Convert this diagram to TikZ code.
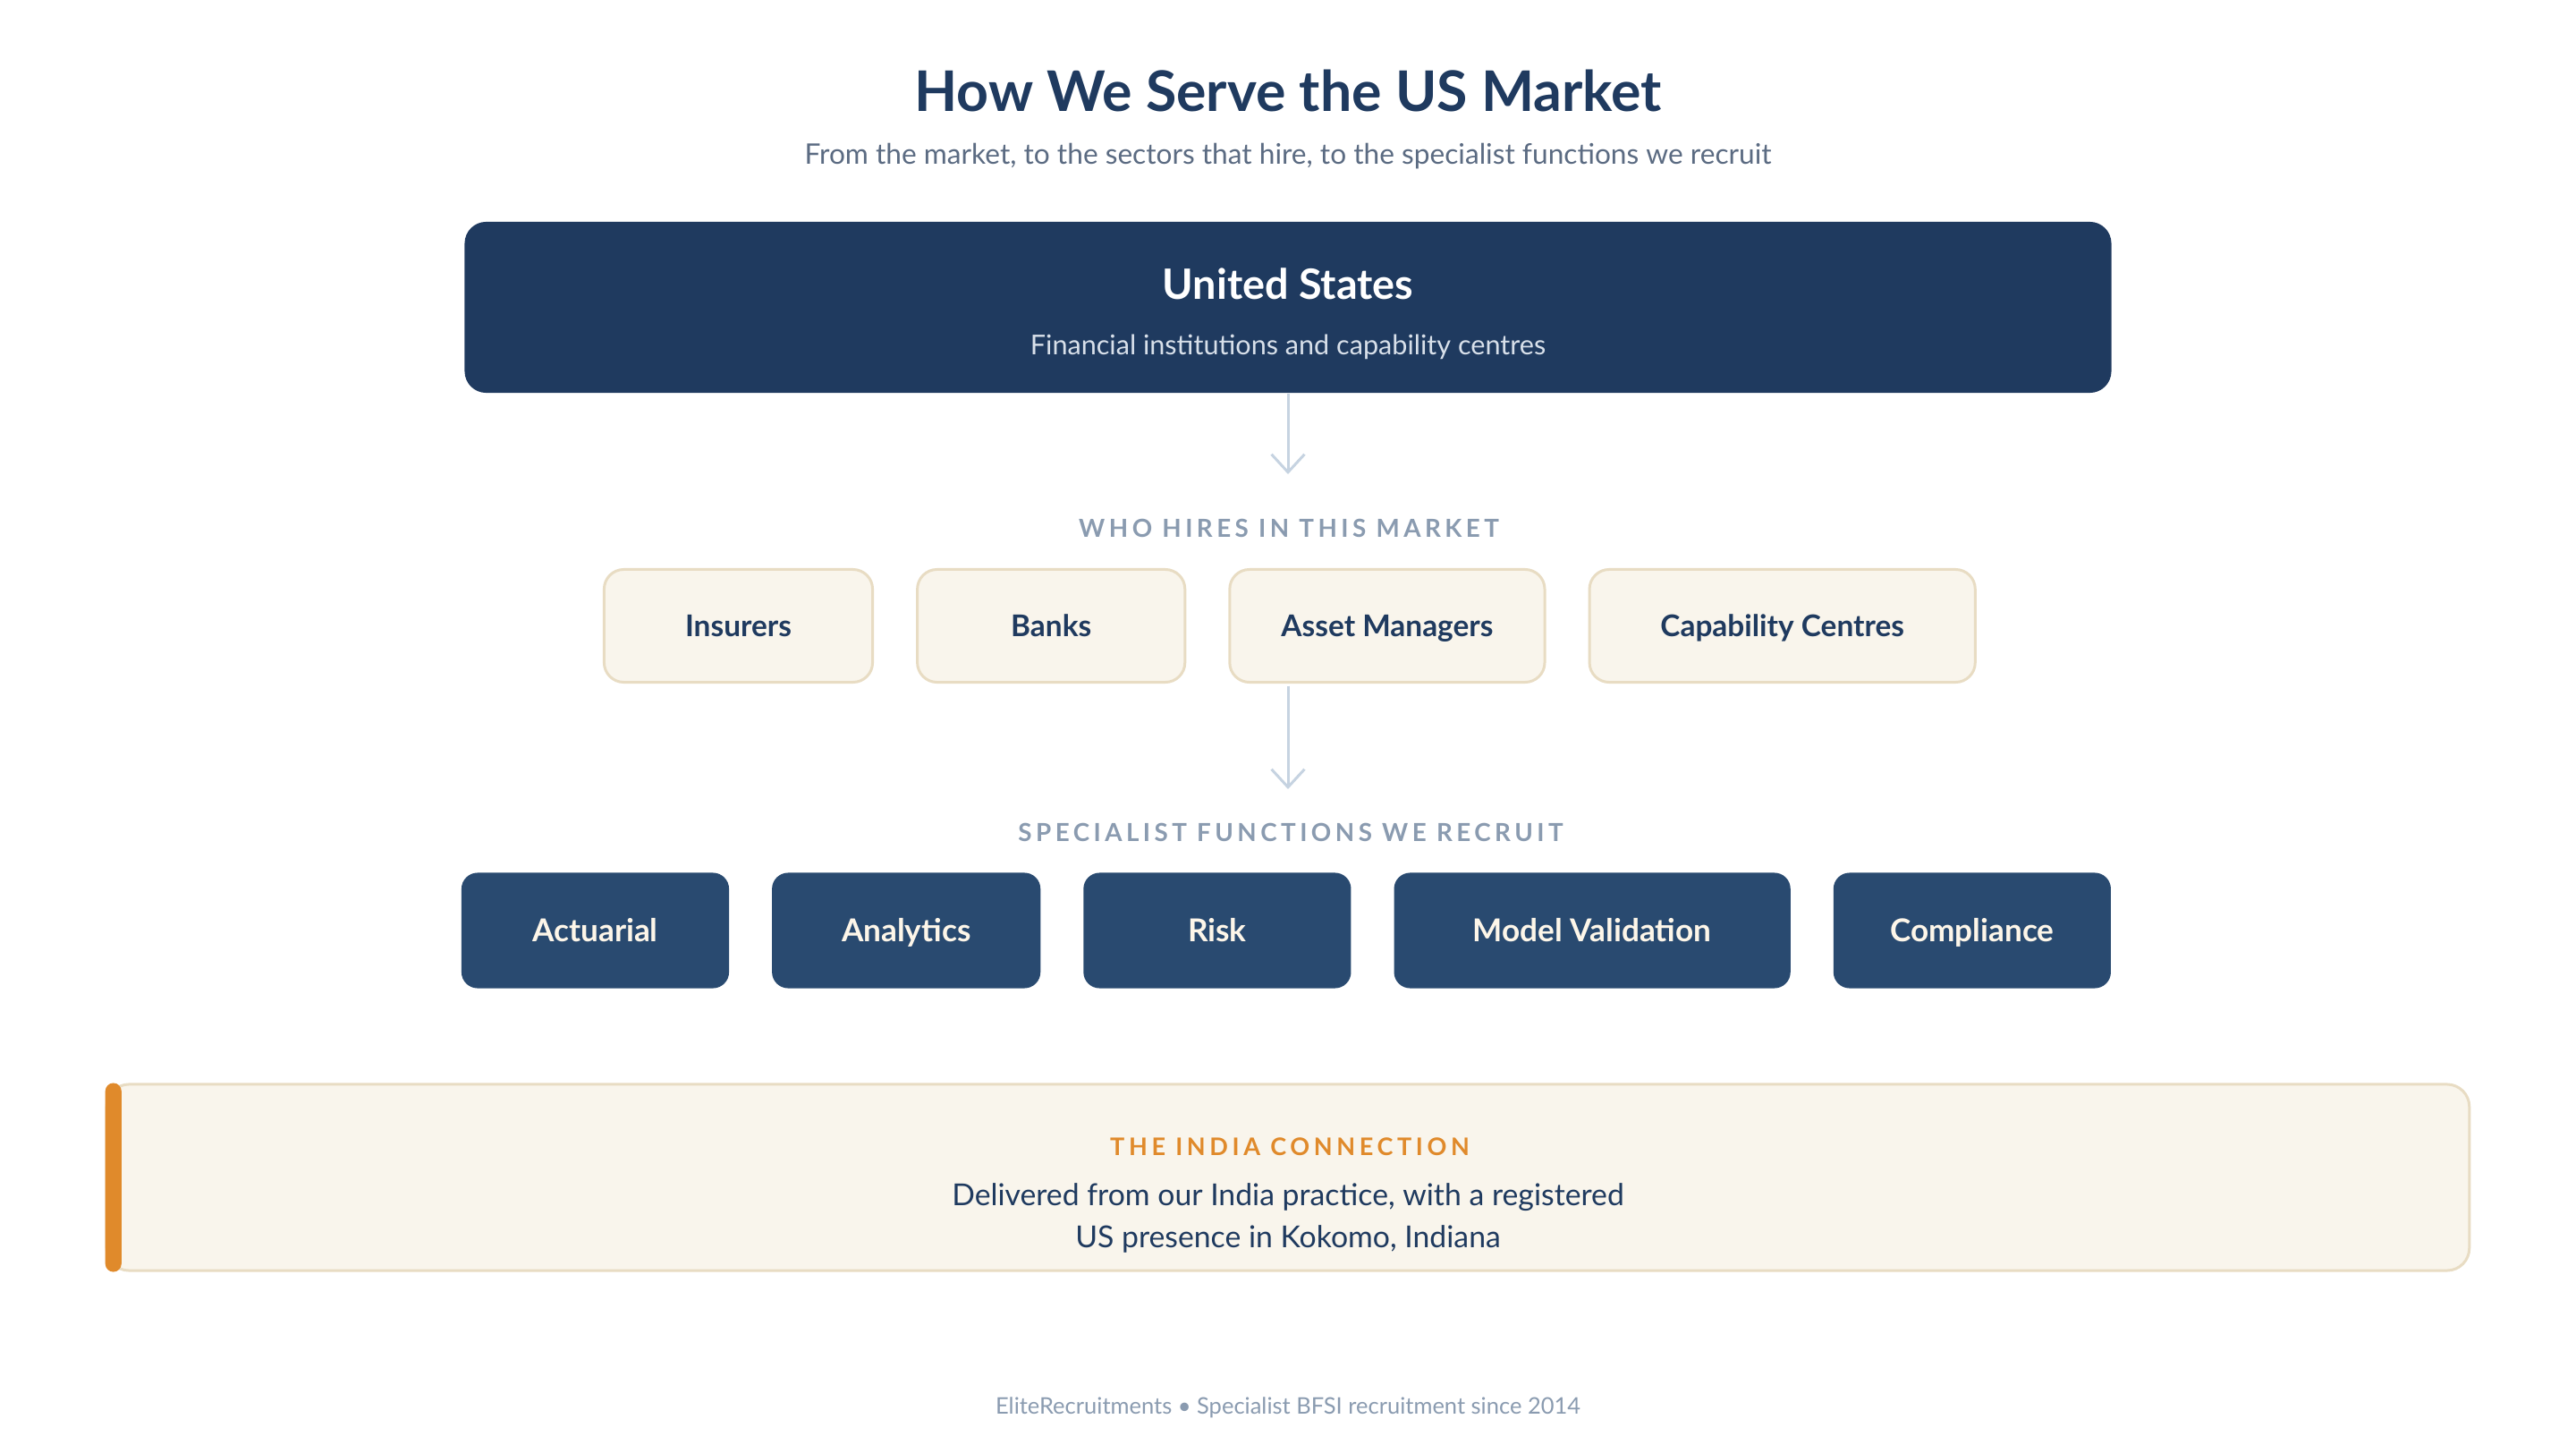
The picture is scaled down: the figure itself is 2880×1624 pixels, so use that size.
\documentclass[tikz,border=0pt]{standalone}
\usepackage{fontspec}
\setmainfont{Lato}
\usetikzlibrary{positioning,arrows.meta}

\definecolor{navy}{HTML}{1F3A5F}
\definecolor{steel}{HTML}{294A70}
\definecolor{cream}{HTML}{F9F5EC}
\definecolor{creamline}{HTML}{E8DCC3}
\definecolor{creamtext}{HTML}{FDF6E9}
\definecolor{tagtext}{HTML}{8A9BB0}
\definecolor{subtext}{HTML}{5B6B82}
\definecolor{ussubtext}{HTML}{D8E0EA}
\definecolor{flowline}{HTML}{C6D3E1}
\definecolor{accent}{HTML}{E08A2B}

\begin{document}
\begin{tikzpicture}[x=0.01cm,y=-0.01cm,
    sector/.style={draw=creamline,line width=0.85pt,fill=cream,rounded corners=0.22cm,
        minimum height=1.26cm,inner sep=0pt,outer sep=0pt,text height=0.24cm,text depth=0pt,
        text=navy,font=\fontsize{9.5}{12}\selectfont\bfseries},
    func/.style={fill=steel,rounded corners=0.18cm,
        minimum height=1.29cm,inner sep=0pt,outer sep=0pt,text height=0.25cm,text depth=0pt,
        text=creamtext,font=\fontsize{10}{12}\selectfont\bfseries},
    tag/.style={anchor=base,inner sep=0pt,text=tagtext,
        font=\fontsize{7.9}{10}\selectfont\bfseries\addfontfeature{LetterSpace=16}},
    flow/.style={draw=flowline,line width=0.85pt,-{Straight Barb[length=5.7pt,width=10.5pt]}}]
    \useasboundingbox[fill=white] (0,0) rectangle (2880,1624);

    % heading
    \node[anchor=base,text=navy,font=\fontsize{17.8}{22}\selectfont\bfseries] (title) at (1440,124) {How We Serve the US Market};
    \node[anchor=base,text=subtext,font=\fontsize{9}{11}\selectfont] (subtitle) at (1440,183) {From the market, to the sectors that hire, to the specialist functions we recruit};

    % market
    \node[fill=navy,rounded corners=0.24cm,minimum width=18.4cm,minimum height=1.91cm] (us) at (1440,343.5) {};
    \node[anchor=base,text=white,font=\fontsize{13.3}{16}\selectfont\bfseries] (ustitle) at (1440,334) {United States};
    \node[anchor=base,text=ussubtext,font=\fontsize{8.7}{10}\selectfont] (ussub) at (1440,396) {Financial institutions and capability centres};

    \coordinate (tip1) at (1440,530);
    \draw[flow] (us) -- (tip1);

    % sectors
    \node[tag] (hires) at (1441,600) {WHO HIRES IN THIS MARKET};
    \node[sector,minimum width=3.0cm] (ins) at (825.5,699.5) {Insurers};
    \node[sector,minimum width=2.99cm,right=0.5cm of ins] (banks) {Banks};
    \node[sector,minimum width=3.52cm,right=0.5cm of banks] (am) {Asset Managers};
    \node[sector,minimum width=4.31cm,right=0.5cm of am] (cc) {Capability Centres};

    \coordinate (tip2) at (1440,882);
    \draw[flow,shorten <=0.04cm] (am.south -| tip2) -- (tip2);

    % functions
    \node[tag] (funcs) at (1443,940) {SPECIALIST FUNCTIONS WE RECRUIT};
    \node[func,minimum width=2.99cm] (act) at (665.5,1040) {Actuarial};
    \node[func,minimum width=3.0cm,right=0.48cm of act] (ana) {Analytics};
    \node[func,minimum width=2.99cm,right=0.48cm of ana] (risk) {Risk};
    \node[func,minimum width=4.43cm,right=0.48cm of risk] (mv) {Model Validation};
    \node[func,minimum width=3.10cm,right=0.48cm of mv] (comp) {Compliance};

    % india panel
    \node[draw=creamline,line width=0.85pt,fill=cream,rounded corners=0.25cm,minimum width=26.4cm,minimum height=2.08cm] (india) at (1440,1316) {};
    \fill[accent,rounded corners=0.09cm] (india.north west) rectangle ([xshift=0.18cm]india.south west);
    \node[anchor=base,inner sep=0pt,text=accent,font=\fontsize{7.7}{10}\selectfont\bfseries\addfontfeature{LetterSpace=17}] (indiahead) at (1442,1291) {THE INDIA CONNECTION};
    \node[anchor=base,text=navy,font=\fontsize{9.6}{12}\selectfont] (indiaa) at (1440,1347) {Delivered from our India practice, with a registered};
    \node[anchor=base,text=navy,font=\fontsize{9.6}{12}\selectfont] (indiab) at (1440,1394) {US presence in Kokomo, Indiana};

    % footer
    \node[anchor=base,text=tagtext,font=\fontsize{7.25}{9}\selectfont] (footer) at (1440,1580) {EliteRecruitments • Specialist BFSI recruitment since 2014};
\end{tikzpicture}
\end{document}
